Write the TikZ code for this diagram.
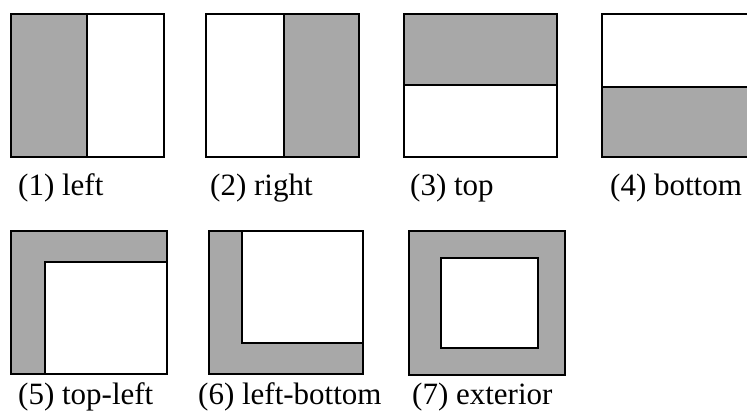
\documentclass[tikz,border=0pt]{standalone}
\usepackage{fontspec}
\setmainfont{Liberation Serif}
\definecolor{shade}{HTML}{A8A8A8}

\begin{document}
\begin{tikzpicture}[x=1pt,y=1pt,outline/.style={draw,line width=2.6pt},grey/.style={fill=shade},caption/.style={anchor=base west,inner sep=0pt,font=\fontsize{31}{37}\selectfont}]
\useasboundingbox (0,0) rectangle (747,412);
\clip (0,0) rectangle (747,412);
% first row
\fill[grey] (11,255) rectangle (87,398);
\draw[outline] (11,255) rectangle (164,398) (87,255)--(87,398);
\fill[grey] (284,255) rectangle (359,398);
\draw[outline] (206,255) rectangle (359,398) (284,255)--(284,398);
\fill[grey] (404,327) rectangle (557,398);
\draw[outline] (404,255) rectangle (557,398) (404,327)--(557,327);
\fill[grey] (602,255) rectangle (755,325);
\draw[outline] (602,255) rectangle (755,398) (602,325)--(755,325);
\node[caption] (c1) at (18,216) {(1) left};
\node[caption] (c2) at (210,216) {(2) right};
\node[caption] (c3) at (410,216) {(3) top};
\node[caption] (c4) at (610,216) {(4) bottom};
% second row
\draw[outline,grey] (11,38) rectangle (167,181);
\draw[outline,fill=white] (45,38) rectangle (167,150);
\draw[outline,grey] (209,38) rectangle (363,181);
\draw[outline,fill=white] (242,69) rectangle (363,181);
\draw[outline,grey] (409,37) rectangle (565,181);
\draw[outline,fill=white] (441,64) rectangle (538,154);
\node[caption] (c5) at (18,7) {(5) top-left};
\node[caption] (c6) at (198,7) {(6) left-bottom};
\node[caption] (c7) at (412,7) {(7) exterior};
\end{tikzpicture}
\end{document}
